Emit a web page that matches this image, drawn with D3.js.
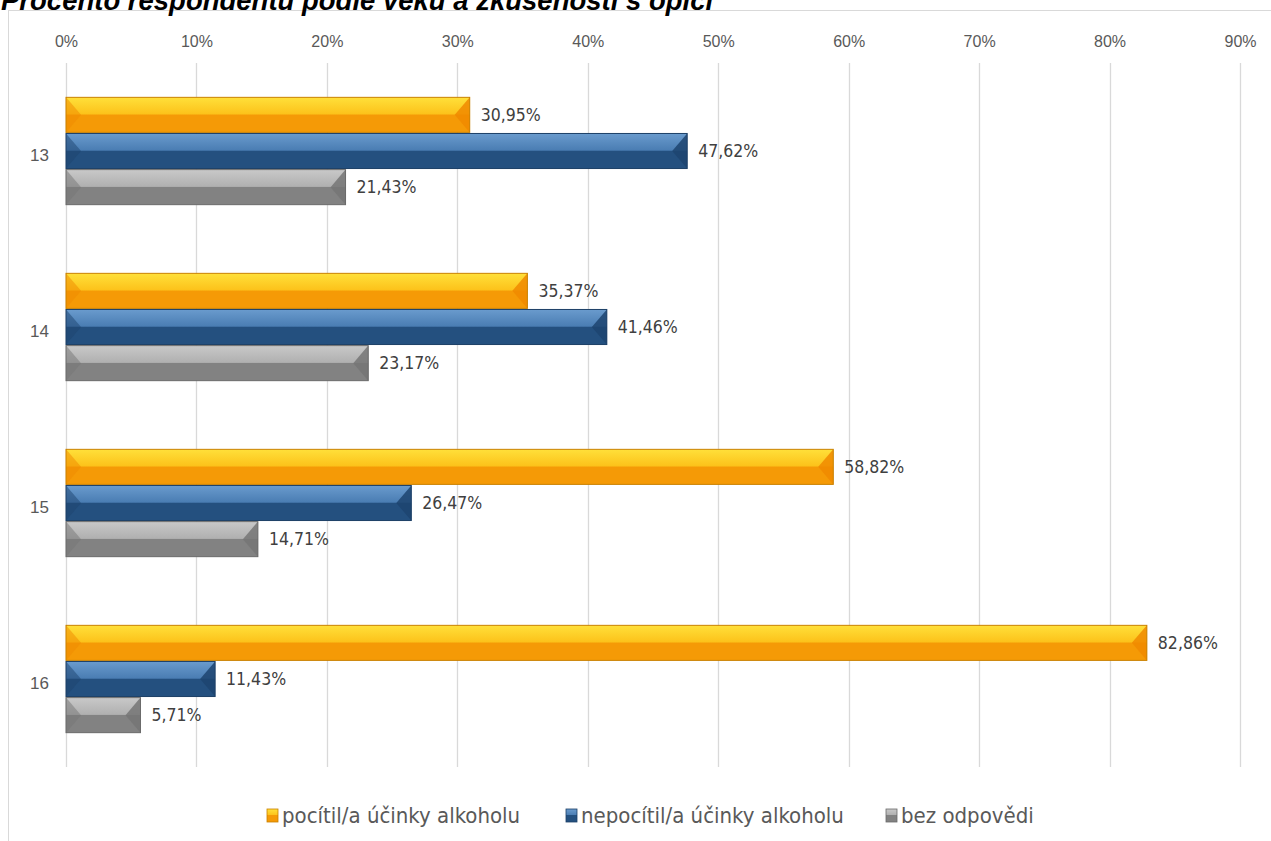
<!DOCTYPE html>
<html><head><meta charset="utf-8">
<script src="https://cdn.jsdelivr.net/npm/d3@7"></script>
<style>html,body{margin:0;padding:0;background:#fff;}svg{display:block;}</style>
</head><body>
<svg id="chart" width="1271" height="841"></svg>
<script>
const title = "Procento respondentů podle věku a zkušenosti s opicí";
const categories = ["13", "14", "15", "16"];
const seriesNames = ["pocítil/a účinky alkoholu", "nepocítil/a účinky alkoholu", "bez odpovědi"];
const felt = [30.95, 35.37, 58.82, 82.86];
const notFelt = [47.62, 41.46, 26.47, 11.43];
const noAnswer = [21.43, 23.17, 14.71, 5.71];
const tickValues = [0, 10, 20, 30, 40, 50, 60, 70, 80, 90];
const seriesValues = [felt, notFelt, noAnswer];

const palettes = [
  {top1:"#ffe03a", top2:"#fcc21a", bot:"#f59a06", bevel:"#f08a00", stroke:"#c98000"},
  {top1:"#6a9bcd", top2:"#4a7db3", bot:"#24507f", bevel:"#1d4470", stroke:"#1c3f66"},
  {top1:"#c9c9c9", top2:"#b0b0b0", bot:"#828282", bevel:"#767676", stroke:"#6a6a6a"}
];

const svg = d3.select("#chart");
const defs = svg.append("defs");
palettes.forEach((p,i)=>{
  const g = defs.append("linearGradient").attr("id","g"+i).attr("x1",0).attr("y1",0).attr("x2",0).attr("y2",1);
  g.append("stop").attr("offset","0%").attr("stop-color",p.top1);
  g.append("stop").attr("offset","48%").attr("stop-color",p.top2);
  g.append("stop").attr("offset","50%").attr("stop-color",p.bot);
  g.append("stop").attr("offset","100%").attr("stop-color",p.bot);
});

// frame
svg.append("rect").attr("x",8.5).attr("y",10.5).attr("width",1300).attr("height",900)
  .attr("fill","#fff").attr("stroke","#d9d9d9").attr("stroke-width",1);

// title (partially above the page top, as in the source)
svg.append("text").attr("x",1).attr("y",10)
  .attr("font-family","Liberation Sans, Arial, sans-serif").attr("font-weight","bold").attr("font-style","italic")
  .attr("font-size",27.5).attr("fill","#000").text(title);

const x = d3.scaleLinear().domain([0,90]).range([66,1240]);
const y = d3.scaleBand().domain(categories).range([63,767]).padding(0);
const y1 = d3.scaleBand().domain(d3.range(3)).range([0,y.bandwidth()]).paddingInner(0.03).paddingOuter(0.95);

// gridlines
svg.append("g").selectAll("line").data(tickValues).join("line")
  .attr("x1",d=>Math.round(x(d))+0.5).attr("x2",d=>Math.round(x(d))+0.5)
  .attr("y1",63).attr("y2",767).attr("stroke","#d9d9d9").attr("stroke-width",1.3);

// top axis labels
const xAxis = d3.axisTop(x).tickValues(tickValues).tickFormat(d=>d+"%").tickSize(0).tickPadding(0);
const gx = svg.append("g").attr("transform","translate(0,47)").call(xAxis);
gx.select(".domain").remove();
gx.selectAll("text").attr("font-family","Liberation Sans, Arial, sans-serif").attr("font-size",16).attr("fill","#595959");

// category labels
const yAxis = d3.axisLeft(y).tickSize(0).tickPadding(0);
const gy = svg.append("g").attr("transform","translate(49,5)").call(yAxis);
gy.select(".domain").remove();
gy.selectAll("text").attr("font-family","Liberation Sans, Arial, sans-serif").attr("font-size",17).attr("fill","#595959");

// bars
const rows = [];
categories.forEach((c,ci)=>seriesValues.forEach((s,si)=>rows.push({c,si,v:s[ci]})));
const bars = svg.append("g").selectAll("g").data(rows).join("g")
  .attr("transform",d=>`translate(0,${y(d.c)+y1(d.si)})`);
const h = y1.bandwidth();
bars.append("rect").attr("x",x(0)).attr("y",0).attr("width",d=>x(d.v)-x(0)).attr("height",h)
  .attr("fill",d=>`url(#g${d.si})`);
// left bevel
bars.append("path").attr("d",d=>{
  const x0=x(0), b=Math.min(15,(x(d.v)-x(0))/2);
  return `M${x0},0 L${x0+b},${h/2} L${x0},${h} Z`;
}).attr("fill",d=>palettes[d.si].bevel).attr("opacity",0.5);
// right bevel
bars.append("path").attr("d",d=>{
  const x1=x(d.v), b=Math.min(15,(x(d.v)-x(0))/2);
  return `M${x1},0 L${x1-b},${h/2} L${x1},${h} Z`;
}).attr("fill",d=>palettes[d.si].bevel).attr("opacity",0.85);
bars.append("rect").attr("x",x(0)).attr("y",0).attr("width",d=>x(d.v)-x(0)).attr("height",h)
  .attr("fill","none").attr("stroke",d=>palettes[d.si].stroke).attr("stroke-width",1);
// value labels
bars.append("text").attr("x",d=>x(d.v)+11).attr("y",h/2).attr("dy","0.35em")
  .attr("font-family","DejaVu Sans Condensed, sans-serif").attr("font-size",17.5).attr("fill","#404040")
  .text(d=>d.v.toFixed(2).replace(".",",")+"%");

// legend
const legendX = [267, 566, 886];
const lg = svg.append("g").selectAll("g").data(seriesNames).join("g")
  .attr("transform",(d,i)=>`translate(${legendX[i]},0)`);
lg.append("rect").attr("x",0).attr("y",809).attr("width",11).attr("height",13)
  .attr("fill",(d,i)=>`url(#g${i})`).attr("stroke",(d,i)=>palettes[i].stroke).attr("stroke-width",0.8);
lg.append("text").attr("x",15).attr("y",823)
  .attr("font-family","DejaVu Sans Condensed, sans-serif").attr("font-size",22).attr("fill","#595959")
  .text(d=>d);
</script>
</body></html>
